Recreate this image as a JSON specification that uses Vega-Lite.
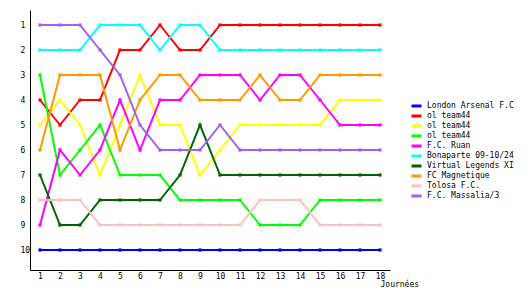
{
  "$schema": "https://vega.github.io/schema/vega-lite/v6.json",
  "width": 360,
  "height": 260,
  "autosize": {"type": "none"},
  "padding": {"left": 30, "top": 10, "right": 140, "bottom": 30},
  "background": "white",
  "config": {
    "view": {"stroke": null},
    "font": "DejaVu Sans Mono"
  },
  "data": {
    "values": [
      {"team": "London Arsenal F.C", "j": [1,2,3,4,5,6,7,8,9,10,11,12,13,14,15,16,17,18], "r": [10,10,10,10,10,10,10,10,10,10,10,10,10,10,10,10,10,10]},
      {"team": "ol team44 #1", "j": [1,2,3,4,5,6,7,8,9,10,11,12,13,14,15,16,17,18], "r": [4,5,4,4,2,2,1,2,2,1,1,1,1,1,1,1,1,1]},
      {"team": "ol team44 #2", "j": [1,2,3,4,5,6,7,8,9,10,11,12,13,14,15,16,17,18], "r": [5,4,5,7,5,3,5,5,7,6,5,5,5,5,5,4,4,4]},
      {"team": "ol team44 #3", "j": [1,2,3,4,5,6,7,8,9,10,11,12,13,14,15,16,17,18], "r": [3,7,6,5,7,7,7,8,8,8,8,9,9,9,8,8,8,8]},
      {"team": "F.C. Ruan", "j": [1,2,3,4,5,6,7,8,9,10,11,12,13,14,15,16,17,18], "r": [9,6,7,6,4,6,4,4,3,3,3,4,3,3,4,5,5,5]},
      {"team": "Bonaparte 09-10/24", "j": [1,2,3,4,5,6,7,8,9,10,11,12,13,14,15,16,17,18], "r": [2,2,2,1,1,1,2,1,1,2,2,2,2,2,2,2,2,2]},
      {"team": "Virtual Legends XI", "j": [1,2,3,4,5,6,7,8,9,10,11,12,13,14,15,16,17,18], "r": [7,9,9,8,8,8,8,7,5,7,7,7,7,7,7,7,7,7]},
      {"team": "FC Magnetique", "j": [1,2,3,4,5,6,7,8,9,10,11,12,13,14,15,16,17,18], "r": [6,3,3,3,6,4,3,3,4,4,4,3,4,4,3,3,3,3]},
      {"team": "Tolosa F.C.", "j": [1,2,3,4,5,6,7,8,9,10,11,12,13,14,15,16,17,18], "r": [8,8,8,9,9,9,9,9,9,9,9,8,8,8,9,9,9,9]},
      {"team": "F.C. Massalia/3", "j": [1,2,3,4,5,6,7,8,9,10,11,12,13,14,15,16,17,18], "r": [1,1,1,2,3,5,6,6,6,5,6,6,6,6,6,6,6,6]}
    ]
  },
  "transform": [{"flatten": ["j", "r"]}],
  "mark": {
    "type": "line",
    "strokeWidth": 2,
    "point": {"shape": "square", "size": 10, "filled": true}
  },
  "encoding": {
    "x": {
      "field": "j",
      "type": "quantitative",
      "scale": {"domain": [0.5, 18.5], "nice": false, "zero": false},
      "axis": {
        "values": [1,2,3,4,5,6,7,8,9,10,11,12,13,14,15,16,17,18],
        "grid": false,
        "ticks": false,
        "tickSize": 0,
        "domainColor": "black",
        "domainWidth": 1,
        "labelFontSize": 8,
        "labelColor": "black",
        "labelPadding": 2,
        "labelFlush": false,
        "title": "Journées",
        "titleFontSize": 8,
        "titleFontWeight": "normal",
        "titleColor": "black",
        "titleX": 350,
        "titleY": 14,
        "titleAlign": "left",
        "titleBaseline": "middle"
      }
    },
    "y": {
      "field": "r",
      "type": "quantitative",
      "scale": {"domain": [0.4, 10.8], "nice": false, "zero": false, "reverse": true},
      "axis": {
        "values": [1,2,3,4,5,6,7,8,9,10],
        "grid": false,
        "ticks": false,
        "tickSize": 0,
        "domainColor": "black",
        "domainWidth": 1,
        "labelFontSize": 8,
        "labelColor": "black",
        "labelAlign": "left",
        "labelPadding": 10,
        "title": null
      }
    },
    "color": {
      "field": "team",
      "type": "nominal",
      "sort": null,
      "scale": {
        "domain": ["London Arsenal F.C", "ol team44 #1", "ol team44 #2", "ol team44 #3", "F.C. Ruan", "Bonaparte 09-10/24", "Virtual Legends XI", "FC Magnetique", "Tolosa F.C.", "F.C. Massalia/3"],
        "range": ["#0000ff", "#ff0000", "#ffff00", "#00ff00", "#ff00ff", "#00ffff", "#006400", "#ff9900", "#ffc0c0", "#a060f0"]
      },
      "legend": {
        "orient": "none",
        "legendX": 380,
        "legendY": 91,
        "padding": 0,
        "title": null,
        "symbolType": "stroke",
        "symbolStrokeWidth": 3,
        "symbolSize": 100,
        "labelFontSize": 8,
        "labelColor": "black",
        "labelOffset": 4,
        "rowPadding": 0,
        "clipHeight": 10,
        "labelExpr": "split(datum.label, ' #')[0]"
      }
    }
  }
}
